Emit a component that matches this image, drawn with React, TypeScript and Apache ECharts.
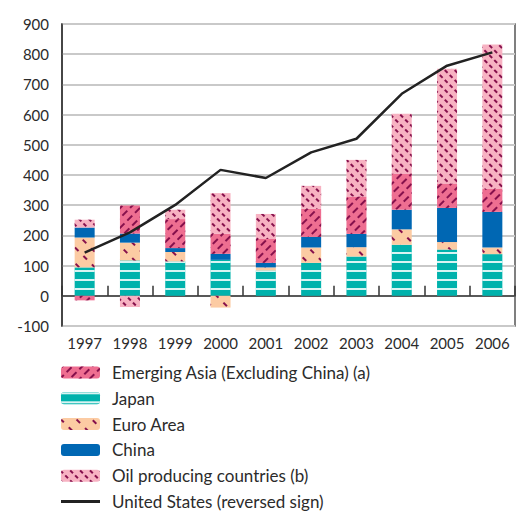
import React, { useEffect, useRef } from "react";
import * as echarts from "echarts";

const years = ["1997", "1998", "1999", "2000", "2001", "2002", "2003", "2004", "2005", "2006"];
const japan = [94, 117, 114, 119, 84, 109, 130, 169, 153, 138];
const euroArea = [99, 59, 31, -39, 10, 51, 31, 51, 25, 22];
const china = [33, 30, 13, 20, 15, 35, 44, 65, 113, 118];
const emergingAsia = [-15, 93, 96, 66, 79, 93, 124, 120, 81, 76];
const oilProducing = [26, -37, 31, 135, 83, 76, 121, 198, 380, 478];
const unitedStates = [143, 210, 301, 417, 390, 475, 520, 669, 762, 806];

const NAMES = {
  ea: "Emerging Asia (Excluding China) (a)",
  jp: "Japan",
  eu: "Euro Area",
  cn: "China",
  oil: "Oil producing countries (b)",
  us: "United States (reversed sign)",
};

const FONT = "Lato, 'DejaVu Sans', sans-serif";
const TEXT = "#2b2b2b";
const PURPLE = "#86104c";

export default function App() {
  const ref = useRef<HTMLDivElement>(null);
  useEffect(() => {
    if (!ref.current) return;
    const chart = echarts.init(ref.current, null, { renderer: "svg" });
    const barBase = { type: "bar", stack: "total", barWidth: 20, xAxisIndex: 0 };
    chart.setOption({
      animation: false,
      textStyle: { fontFamily: FONT },
      grid: {
        left: 62,
        right: 1,
        top: 24,
        bottom: 185,
        show: true,
        borderColor: "#555",
        borderWidth: 1.5,
        backgroundColor: "#fff",
      },
      legend: {
        orient: "vertical",
        left: 61,
        top: 364,
        height: 160,
        padding: 0,
        itemWidth: 39,
        itemHeight: 12,
        itemGap: 8.8,
        textStyle: { fontFamily: FONT, fontSize: 17, color: TEXT, padding: [0, 0, 0, 7] },
        data: [
          { name: NAMES.ea },
          { name: NAMES.jp },
          { name: NAMES.eu },
          { name: NAMES.cn },
          { name: NAMES.oil },
          { name: NAMES.us, icon: "path://M0,0 L40,0 L40,3 L0,3 Z", itemStyle: { color: "#222" } },
        ],
      },
      xAxis: [
        {
          type: "category",
          data: years,
          axisLine: { onZero: true, lineStyle: { color: "#333", width: 1.5 } },
          axisTick: { show: true, inside: true, length: 10, lineStyle: { color: "#333", width: 1.5 } },
          axisLabel: { show: false },
          splitLine: { show: false },
        },
        {
          type: "category",
          data: years,
          position: "bottom",
          axisLine: { show: false, onZero: false },
          axisTick: { show: false },
          axisLabel: { fontFamily: FONT, fontSize: 15, color: TEXT, margin: 9 },
          splitLine: { show: false },
        },
      ],
      yAxis: {
        type: "value",
        min: -100,
        max: 900,
        interval: 100,
        axisLine: { show: true, lineStyle: { color: "#333", width: 1.5 } },
        axisTick: { show: false },
        axisLabel: { fontFamily: FONT, fontSize: 15, color: TEXT, margin: 13 },
        splitLine: { show: true, lineStyle: { color: "#c9c9c9", width: 2 } },
      },
      series: [
        {
          ...barBase,
          name: NAMES.jp,
          data: japan,
          itemStyle: {
            color: "#00b2ac",
            decal: { color: "rgba(255,255,255,0.85)", dashArrayX: [[1, 0]], dashArrayY: [2, 7], rotation: 0 },
          },
        },
        {
          ...barBase,
          name: NAMES.eu,
          data: euroArea,
          itemStyle: {
            color: "#fccba3",
            decal: { color: PURPLE, dashArrayX: [5, 7], dashArrayY: [1.5, 9], rotation: Math.PI / 4 },
          },
        },
        {
          ...barBase,
          name: NAMES.cn,
          data: china,
          itemStyle: { color: "#0067b3" },
        },
        {
          ...barBase,
          name: NAMES.ea,
          data: emergingAsia,
          itemStyle: {
            color: "#ee6e91",
            decal: { color: PURPLE, dashArrayX: [7, 4], dashArrayY: [1.5, 5], rotation: -Math.PI / 4 },
          },
        },
        {
          ...barBase,
          name: NAMES.oil,
          data: oilProducing,
          itemStyle: {
            color: "#f7b2c2",
            decal: { color: PURPLE, dashArrayX: [4, 3], dashArrayY: [1.5, 5], rotation: Math.PI / 4 },
          },
        },
        {
          type: "line",
          name: NAMES.us,
          data: unitedStates,
          xAxisIndex: 0,
          symbol: "none",
          lineStyle: { color: "#222", width: 2.5 },
          itemStyle: { color: "#222" },
          z: 5,
        },
      ],
    });
    return () => chart.dispose();
  }, []);
  return <div ref={ref} style={{ width: 516, height: 511, position: "absolute", left: 0, top: 0 }} />;
}
